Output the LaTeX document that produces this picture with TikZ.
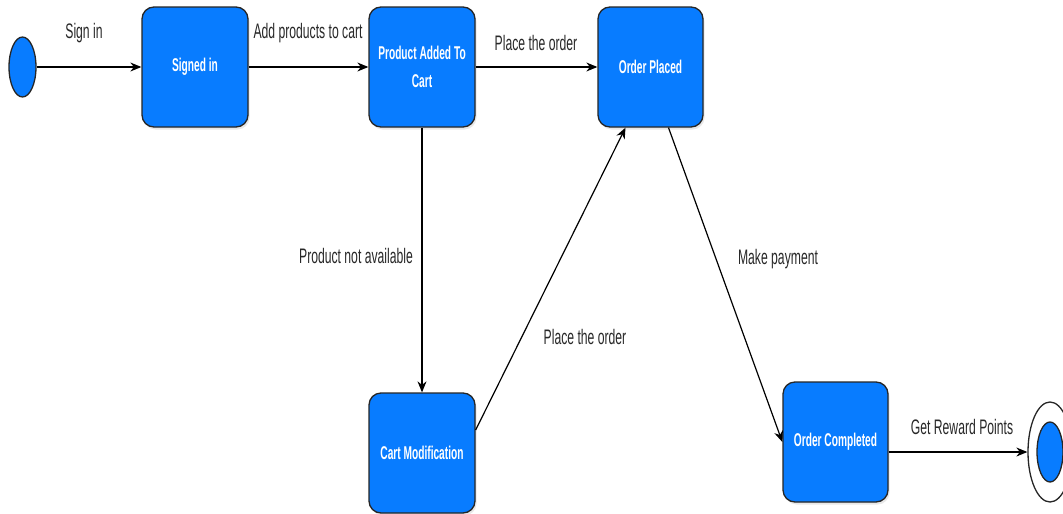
\documentclass[tikz,border=0pt]{standalone}
\usepackage{fontspec}
\setmainfont{Liberation Sans}
\newfontfamily\edgefont[FakeStretch=0.58]{Liberation Sans}
\newfontfamily\statefont[FakeStretch=0.55]{Liberation Sans}
\usetikzlibrary{shapes.geometric,arrows.meta,calc,shadows}
\definecolor{stateblue}{RGB}{8,124,255}
\definecolor{labelgray}{RGB}{40,40,40}
\tikzset{
  statebox/.style={draw=black!85, line width=1.3pt, fill=stateblue, rounded corners=12pt,
    minimum width=106pt, minimum height=120pt, inner sep=0pt, align=center,
    text=white, font=\statefont\bfseries\fontsize{18.5}{28}\selectfont,
    drop shadow={opacity=0.18, shadow xshift=1.5pt, shadow yshift=-2.5pt}},
  pseudo/.style={ellipse, draw=black!85, line width=1.3pt, fill=stateblue, inner sep=0pt,
    minimum width=27pt, minimum height=60pt},
  flow/.style={draw=black, line width=1.2pt, -{Stealth[length=11pt,width=9pt]}},
  elabel/.style={anchor=base, inner sep=0pt, text=labelgray,
    font=\edgefont\fontsize{21}{24}\selectfont}
}
\begin{document}
\begin{tikzpicture}[x=1pt,y=-1pt]
\useasboundingbox (0,0) rectangle (1063,514);
\fill[white] (0,0) rectangle (1063,514);

% states
\node[pseudo] (start) at (22.5,67) {};
\node[statebox] (signed) at (195,67) {Signed in};
\node[statebox] (cart) at (422,67) {Product Added To\\Cart};
\node[statebox, minimum width=105pt] (placed) at (650.5,67) {Order Placed};
\node[statebox] (modify) at (422,453) {Cart Modification};
\node[statebox, minimum width=105pt] (done) at (835.5,442) {Order Completed};

% final state
\node[ellipse, draw=black!85, line width=1.3pt, fill=white, inner sep=0pt,
  minimum width=44pt, minimum height=100pt] (endout) at (1050,452) {};
\node[pseudo, minimum width=26pt] (endin) at (1050,452) {};

% transitions
\draw[flow] (start) -- (signed);
\draw[flow] (signed) -- (cart);
\draw[flow] (cart) -- (placed);
\draw[flow] (cart) -- (modify);
\draw[flow] ($(modify.east)+(0,-23)$) -- ($(placed.south)+(-25,0)$);
\draw[flow] ($(placed.south)+(18,0)$) -- (done.west);
\draw[flow] (done.east |- endin) -- (endout.west);

% transition labels
\node[elabel] (l1) at (84,38) {Sign in};
\node[elabel] (l2) at (308,38) {Add products to cart};
\node[elabel] (l3) at (536,50) {Place the order};
\node[elabel] (l4) at (356,263) {Product not available};
\node[elabel] (l5) at (585,344) {Place the order};
\node[elabel] (l6) at (778,264) {Make payment};
\node[elabel] (l7) at (962,434) {Get Reward Points};
\end{tikzpicture}
\end{document}
